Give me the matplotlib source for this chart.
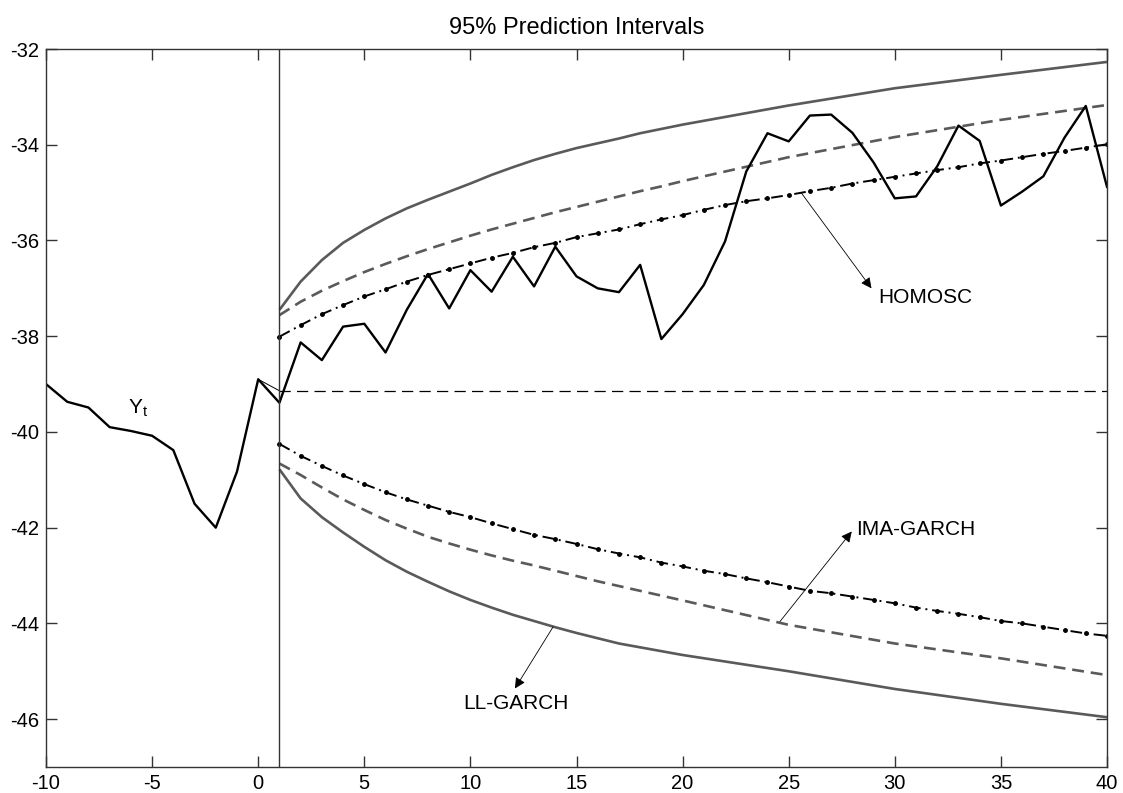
import matplotlib
matplotlib.use('Agg')
import matplotlib.pyplot as plt

plt.rcParams['font.family'] = ['Liberation Sans', 'DejaVu Sans']
plt.rcParams['axes.unicode_minus'] = False

# observed series Y_t, t = -10 .. 40
t = list(range(-10, 41))
y_obs = [-39.00, -39.37, -39.49, -39.90, -39.98, -40.08, -40.38, -41.50, -42.00, -40.83,
         -38.90, -39.39, -38.13, -38.50, -37.80, -37.74, -38.34, -37.45, -36.70, -37.42,
         -36.62, -37.07, -36.34, -36.96, -36.13, -36.75, -37.00, -37.08, -36.51, -38.06,
         -37.54, -36.93, -36.02, -34.56, -33.76, -33.93, -33.39, -33.37, -33.75, -34.37,
         -35.12, -35.08, -34.45, -33.60, -33.92, -35.27, -34.98, -34.66, -33.85, -33.19,
         -34.88]

# point forecast
fc_x = [0, 1, 40]
fc_y = [-38.90, -39.14, -39.14]

# horizons
h = list(range(1, 41))
h_s = list(range(1, 21)) + [25, 30, 35, 40]

# LL-GARCH (solid grey)
ll_up = [-37.45, -36.86, -36.41, -36.05, -35.78, -35.54, -35.33, -35.15, -34.98, -34.81,
         -34.63, -34.47, -34.32, -34.19, -34.07, -33.97, -33.87, -33.76, -33.67, -33.58,
         -33.18, -32.82, -32.54, -32.27]
ll_lo = [-40.78, -41.39, -41.78, -42.10, -42.40, -42.68, -42.92, -43.13, -43.33, -43.51,
         -43.67, -43.82, -43.95, -44.08, -44.20, -44.31, -44.42, -44.50, -44.58, -44.66,
         -45.00, -45.37, -45.68, -45.96]

# IMA-GARCH (dashed grey)
ima_up = [-37.56, -37.28, -37.05, -36.85, -36.66, -36.49, -36.33, -36.18, -36.04, -35.90,
          -35.77, -35.65, -35.53, -35.41, -35.30, -35.19, -35.08, -34.97, -34.87, -34.76,
          -34.26, -33.84, -33.48, -33.17]
ima_lo = [-40.66, -40.90, -41.16, -41.41, -41.63, -41.84, -42.02, -42.19, -42.33, -42.46,
          -42.58, -42.69, -42.79, -42.90, -43.01, -43.12, -43.22, -43.32, -43.42, -43.52,
          -44.03, -44.42, -44.73, -45.08]

# HOMOSC (dash-dot with dots)
hom_up = [-38.01, -37.77, -37.54, -37.35, -37.17, -37.02, -36.86, -36.72, -36.60, -36.48,
          -36.36, -36.26, -36.14, -36.05, -35.93, -35.85, -35.77, -35.66, -35.56, -35.47,
          -35.36, -35.26, -35.18, -35.12, -35.05, -34.97, -34.90, -34.81, -34.74, -34.67,
          -34.60, -34.53, -34.47, -34.39, -34.33, -34.26, -34.19, -34.13, -34.06, -33.99]
hom_lo = [-40.25, -40.50, -40.71, -40.91, -41.09, -41.26, -41.41, -41.54, -41.67, -41.78,
          -41.91, -42.03, -42.15, -42.24, -42.34, -42.45, -42.54, -42.62, -42.73, -42.81,
          -42.90, -42.97, -43.06, -43.14, -43.23, -43.32, -43.37, -43.44, -43.51, -43.58,
          -43.67, -43.74, -43.80, -43.87, -43.95, -44.00, -44.07, -44.14, -44.21, -44.26]

fig = plt.figure(figsize=(11.23, 7.93), dpi=100)
ax = fig.add_axes([46/1123, 26/793, (1107-46)/1123, (767-49)/793])

grey = '#5a5a5a'
for band in (ll_up, ll_lo):
    ax.plot(h_s, band, color=grey, lw=1.9, solid_capstyle='butt')
for band in (ima_up, ima_lo):
    ax.plot(h_s, band, color=grey, lw=1.9, dashes=(4.5, 2.6))
for band in (hom_up, hom_lo):
    ax.plot(h, band, color='black', lw=1.4, dashes=(6, 2.5, 1, 2.5),
            marker='.', ms=5)

ax.plot(fc_x[:2], fc_y[:2], color='black', lw=0.7)
ax.plot(fc_x[1:], fc_y[1:], color='black', lw=0.9, dashes=(9, 5))
ax.plot(t, y_obs, color='black', lw=1.7)
ax.axvline(1, color='#333333', lw=1.0)

arrow = dict(arrowstyle='-|>', color='black', lw=0.6, mutation_scale=16,
             shrinkA=0, shrinkB=0)
ax.annotate('', xy=(28.9, -37.0), xytext=(25.6, -35.01), arrowprops=arrow)
ax.text(29.2, -37.19, 'HOMOSC', fontsize=15, va='center', ha='left')
ax.annotate('', xy=(27.97, -42.08), xytext=(24.59, -43.96), arrowprops=arrow)
ax.text(28.2, -42.04, 'IMA-GARCH', fontsize=15, va='center', ha='left')
ax.annotate('', xy=(12.1, -45.36), xytext=(13.9, -44.07), arrowprops=arrow)
ax.text(9.65, -45.68, 'LL-GARCH', fontsize=15, va='center', ha='left')
ax.text(-6.15, -39.62, r'Y$_{\mathregular{t}}$', fontsize=15, va='baseline', ha='left')

ax.set_xlim(-10, 40)
ax.set_ylim(-47, -32)
ax.set_xticks(range(-10, 41, 5))
ax.set_yticks(range(-46, -31, 2))
ax.tick_params(direction='in', length=8, width=1, top=True, right=True,
               labelsize=14.5, color='#333333', pad=5)
for s in ax.spines.values():
    s.set_color('#333333')
    s.set_linewidth(1)
ax.set_title('95% Prediction Intervals', fontsize=17, pad=11)

fig.savefig('out.png', dpi=100)
